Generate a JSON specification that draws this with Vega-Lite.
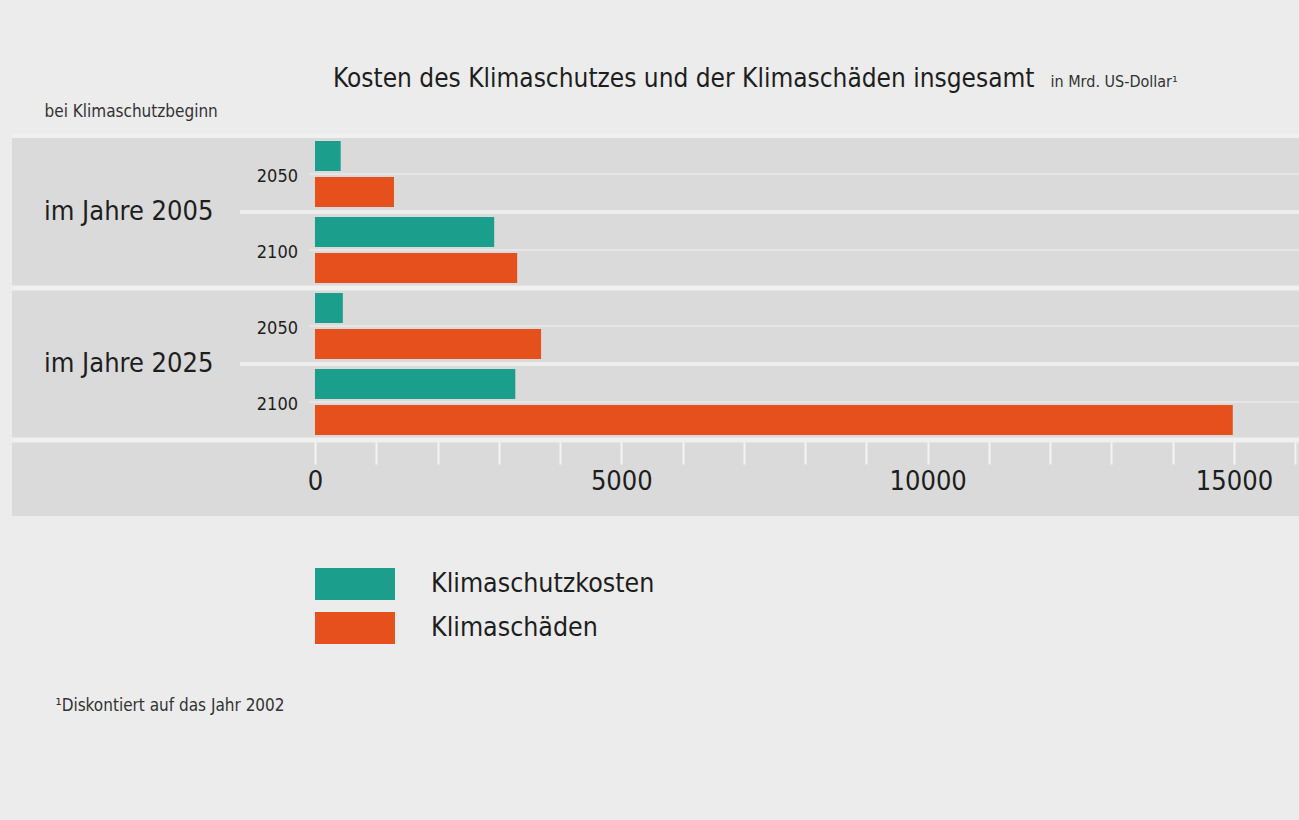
{
  "$schema": "https://vega.github.io/schema/vega-lite/v6.json",
  "width": 1287,
  "height": 380,
  "autosize": {"type": "none"},
  "padding": {"left": 12, "top": 136, "right": 0, "bottom": 304},
  "background": "#ececec",
  "config": {
    "view": {"fill": "#dadada", "stroke": null},
    "font": "Liberation Sans Narrow, DejaVu Sans Condensed, Liberation Sans, sans-serif",
    "axis": {"grid": false, "domain": false}
  },
  "title": {
    "text": "Kosten des Klimaschutzes und der Klimaschäden insgesamt",
    "anchor": "start",
    "frame": "group",
    "dx": 321,
    "dy": 34,
    "offset": 15,
    "fontSize": 26,
    "fontWeight": "normal",
    "color": "#1e1e1e"
  },
  "datasets": {
    "bars": [
      {"start": "im Jahre 2005", "year": "2050", "pair": "2005-2050", "type": "Klimaschutzkosten", "value": 420},
      {"start": "im Jahre 2005", "year": "2050", "pair": "2005-2050", "type": "Klimaschäden", "value": 1290},
      {"start": "im Jahre 2005", "year": "2100", "pair": "2005-2100", "type": "Klimaschutzkosten", "value": 2925},
      {"start": "im Jahre 2005", "year": "2100", "pair": "2005-2100", "type": "Klimaschäden", "value": 3300},
      {"start": "im Jahre 2025", "year": "2050", "pair": "2025-2050", "type": "Klimaschutzkosten", "value": 455},
      {"start": "im Jahre 2025", "year": "2050", "pair": "2025-2050", "type": "Klimaschäden", "value": 3690},
      {"start": "im Jahre 2025", "year": "2100", "pair": "2025-2100", "type": "Klimaschutzkosten", "value": 3270},
      {"start": "im Jahre 2025", "year": "2100", "pair": "2025-2100", "type": "Klimaschäden", "value": 14980}
    ],
    "pairs": [
      {"start": "im Jahre 2005", "year": "2050", "pair": "2005-2050"},
      {"start": "im Jahre 2005", "year": "2100", "pair": "2005-2100"},
      {"start": "im Jahre 2025", "year": "2050", "pair": "2025-2050"},
      {"start": "im Jahre 2025", "year": "2100", "pair": "2025-2100"}
    ]
  },
  "resolve": {"axis": {"y": "independent"}},
  "layer": [
    {
      "data": {"name": "pairs"},
      "mark": {"type": "rule", "color": "#e6e6e6", "strokeWidth": 2},
      "encoding": {
        "y": {"field": "pair", "type": "nominal", "bandPosition": 0.5, "axis": null},
        "x": {"datum": -98},
        "x2": {"datum": 16061}
      }
    },
    {
      "data": {"name": "pairs"},
      "transform": [{"filter": "datum.year == '2100'"}],
      "mark": {"type": "rule", "color": "#eeeeee", "strokeWidth": 4},
      "encoding": {
        "y": {"field": "pair", "type": "nominal", "bandPosition": 0, "axis": null},
        "x": {"datum": -1224},
        "x2": {"datum": 16061}
      }
    },
    {
      "data": {"name": "pairs"},
      "transform": [{"filter": "datum.year == '2100'"}],
      "mark": {"type": "rule", "color": "#f0f0f0", "strokeWidth": 5},
      "encoding": {
        "y": {"field": "pair", "type": "nominal", "bandPosition": 1, "axis": null}
      }
    },
    {
      "data": {"name": "pairs"},
      "transform": [{"filter": "datum.pair == '2005-2050'"}],
      "mark": {"type": "rule", "color": "#f0f0f0", "strokeWidth": 4},
      "encoding": {
        "y": {"field": "pair", "type": "nominal", "bandPosition": 0, "axis": null}
      }
    },
    {
      "data": {"name": "bars"},
      "mark": {"type": "bar"},
      "encoding": {
        "y": {
          "field": "pair",
          "type": "nominal",
          "scale": {"domain": ["2005-2050", "2005-2100", "2025-2050", "2025-2100", " "], "paddingInner": 0, "paddingOuter": 0},
          "axis": {
            "orient": "left",
            "title": "bei Klimaschutzbeginn",
            "titleAngle": 0,
            "titleX": 32,
            "titleY": -25,
            "titleAlign": "left",
            "titleBaseline": "middle",
            "titleFontSize": 17,
            "titleFontWeight": "normal",
            "titleColor": "#333333",
            "labels": false,
            "ticks": false,
            "domain": false,
            "grid": false
          }
        },
        "yOffset": {
          "field": "type",
          "type": "nominal",
          "scale": {"domain": ["Klimaschutzkosten", "Klimaschäden"], "paddingInner": 0.1667, "paddingOuter": 0.139}
        },
        "x": {
          "field": "value",
          "type": "quantitative",
          "scale": {"domain": [-4945, 16061], "nice": false, "zero": false},
          "axis": {
            "orient": "bottom",
            "offset": -76,
            "values": [0, 1000, 2000, 3000, 4000, 5000, 6000, 7000, 8000, 9000, 10000, 11000, 12000, 13000, 14000, 15000, 16000],
            "labelExpr": "datum.value % 5000 == 0 ? datum.value : ''",
            "labelFlush": false,
            "labelOverlap": false,
            "domain": false,
            "grid": false,
            "ticks": true,
            "tickColor": "#f4f4f4",
            "tickSize": 24,
            "tickWidth": 2,
            "labelFontSize": 27,
            "labelColor": "#1e1e1e",
            "labelPadding": 4,
            "title": "in Mrd. US-Dollar¹",
            "titleX": 1038,
            "titleY": -354,
            "titleAlign": "left",
            "titleBaseline": "alphabetic",
            "titleFontSize": 16,
            "titleFontWeight": "normal",
            "titleColor": "#333333"
          }
        },
        "color": {
          "field": "type",
          "type": "nominal",
          "scale": {"domain": ["Klimaschutzkosten", "Klimaschäden"], "range": ["#1b9e8c", "#e5501d"]},
          "legend": {
            "orient": "none",
            "legendX": 303,
            "legendY": 426,
            "title": null,
            "symbolType": "M-1,-0.4H1V0.4H-1Z",
            "symbolSize": 6400,
            "symbolStrokeWidth": 0,
            "symbolOpacity": 1,
            "labelFontSize": 26.5,
            "labelColor": "#1e1e1e",
            "labelOffset": 36,
            "labelLimit": 400,
            "clipHeight": 44,
            "rowPadding": 0,
            "padding": 0
          }
        }
      }
    },
    {
      "data": {"name": "pairs"},
      "mark": {"type": "text", "align": "right", "baseline": "middle", "fontSize": 18, "color": "#1e1e1e", "dy": 3},
      "encoding": {
        "y": {
          "field": "pair",
          "type": "nominal",
          "axis": {
            "orient": "right",
            "title": "¹Diskontiert auf das Jahr 2002",
            "titleAngle": 0,
            "titleX": -1244,
            "titleY": 569,
            "titleAlign": "left",
            "titleBaseline": "middle",
            "titleFontSize": 17,
            "titleFontWeight": "normal",
            "titleColor": "#333333",
            "labels": false,
            "ticks": false,
            "domain": false,
            "grid": false
          }
        },
        "x": {"datum": -277},
        "text": {"field": "year"}
      }
    },
    {
      "data": {"name": "pairs"},
      "transform": [{"filter": "datum.year == '2100'"}],
      "mark": {"type": "text", "align": "left", "baseline": "middle", "fontSize": 27, "color": "#1e1e1e"},
      "encoding": {
        "y": {"field": "pair", "type": "nominal", "bandPosition": 0, "axis": null},
        "x": {"datum": -4423},
        "text": {"field": "start"}
      }
    }
  ]
}
